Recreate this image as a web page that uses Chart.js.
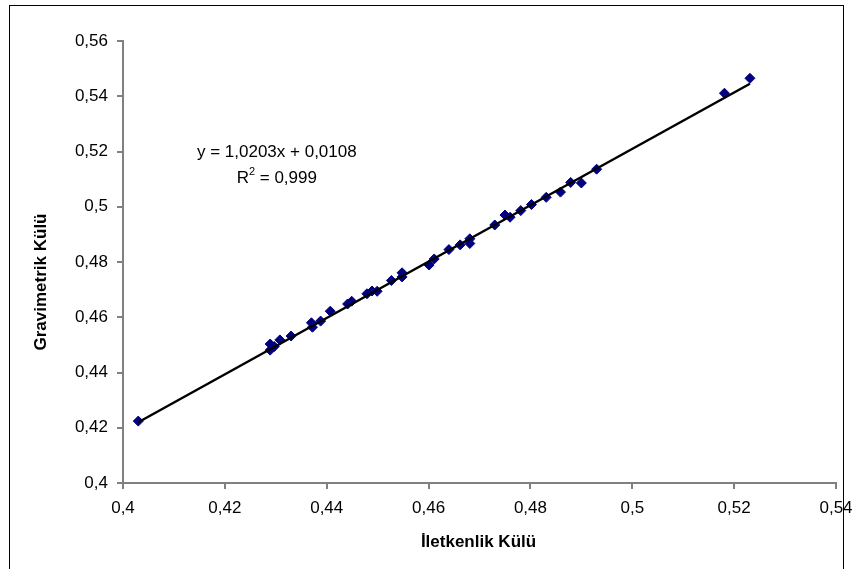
<!DOCTYPE html>
<html>
<head>
<meta charset="utf-8">
<script src="https://cdn.jsdelivr.net/npm/chart.js@4/dist/chart.umd.min.js"></script>
<style>
  html, body { margin: 0; padding: 0; background: #fff; overflow: hidden; }
  #wrap { position: relative; width: 852px; height: 569px; }
  #frame { position: absolute; left: 9px; top: 5px; width: 833px; height: 620px; border: 1px solid #000; pointer-events: none; }
  canvas { position: absolute; left: 0; top: 0; }
</style>
</head>
<body>
<div id="wrap">
  <canvas id="c" width="852" height="569"></canvas>
  <div id="frame"></div>
</div>
<script>
// Gravimetrik vs İletkenlik kül — scatter + linear trend, Excel-ish look.

const xVals = [0.403, 0.4289, 0.4289, 0.4297, 0.4308, 0.433, 0.437, 0.4372, 0.4388, 0.4407,
  0.4441, 0.4449, 0.4479, 0.4489, 0.4499, 0.4527, 0.4548, 0.4548, 0.4601, 0.4611,
  0.464, 0.4662, 0.4681, 0.4681, 0.473, 0.475, 0.476, 0.4781, 0.4802, 0.4831,
  0.4859, 0.4879, 0.49, 0.493, 0.5181, 0.5231];
const yVals = [0.4224, 0.4503, 0.4481, 0.4494, 0.4518, 0.4532, 0.458, 0.4564, 0.4586, 0.4622,
  0.4648, 0.4658, 0.4685, 0.4695, 0.4694, 0.4733, 0.4761, 0.4746, 0.4789, 0.4811,
  0.4845, 0.4862, 0.4867, 0.4884, 0.4934, 0.497, 0.4962, 0.4986, 0.5008, 0.5034,
  0.5053, 0.5088, 0.5086, 0.5136, 0.5411, 0.5465];

const xTicks = [0.4, 0.42, 0.44, 0.46, 0.48, 0.5, 0.52, 0.54];
const xTickLabels = ['0,4', '0,42', '0,44', '0,46', '0,48', '0,5', '0,52', '0,54'];
const yTicks = [0.4, 0.42, 0.44, 0.46, 0.48, 0.5, 0.52, 0.54, 0.56];
const yTickLabels = ['0,4', '0,42', '0,44', '0,46', '0,48', '0,5', '0,52', '0,54', '0,56'];

const slope = 1.0203;
const intercept = 0.0108;
const eqText = 'y = 1,0203x + 0,0108';
const r2Text = ' = 0,999';
const xTitle = 'İletkenlik Külü';
const yTitle = 'Gravimetrik Külü';

const FONT = '"Liberation Sans", Arial, sans-serif';
const AXIS_GRAY = '#808080';
const NAVY = '#000080';

const points = xVals.map((x, i) => ({ x, y: yVals[i] }));
const xLo = Math.min(...xVals), xHi = Math.max(...xVals);
const trend = [xLo, xHi].map(x => ({ x, y: slope * x + intercept }));

const labelsPlugin = {
  id: 'excelLabels',
  afterDraw(chart) {
    const { ctx, scales: { x, y }, chartArea } = chart;
    ctx.save();
    ctx.fillStyle = '#000';
    ctx.textBaseline = 'middle';

    // trendline equation, anchored in data space
    const cx = x.getPixelForValue(0.4302);
    const cy = y.getPixelForValue(0.5198);
    ctx.font = '17px ' + FONT;
    ctx.textAlign = 'center';
    ctx.fillText(eqText, cx, cy);

    // R² with superscript
    const wR = ctx.measureText('R').width;
    const wRest = ctx.measureText(r2Text).width;
    ctx.font = '11px ' + FONT;
    const w2 = ctx.measureText('2').width;
    const total = wR + w2 + wRest;
    let sx = cx - total / 2;
    const ry = cy + 26;
    ctx.textAlign = 'left';
    ctx.font = '17px ' + FONT;
    ctx.fillText('R', sx, ry);
    ctx.font = '11px ' + FONT;
    ctx.fillText('2', sx + wR, ry - 6);
    ctx.font = '17px ' + FONT;
    ctx.fillText(r2Text, sx + wR + w2, ry);

    // axis titles
    ctx.font = 'bold 17px ' + FONT;
    ctx.textAlign = 'center';
    ctx.fillText(xTitle, (chartArea.left + chartArea.right) / 2 - 1, 542);
    ctx.translate(41, 282);
    ctx.rotate(-Math.PI / 2);
    ctx.fillText(yTitle, 0, 0);
    ctx.restore();
  }
};

const axisCommon = {
  type: 'linear',
  border: { display: true, color: AXIS_GRAY, width: 2 },
  grid: { display: true, drawOnChartArea: false, drawTicks: true, tickLength: 6, color: AXIS_GRAY, lineWidth: 2 },
  title: { display: false },
};

new Chart(document.getElementById('c'), {
  type: 'scatter',
  data: {
    datasets: [
      {
        type: 'line', label: 'trend', data: trend,
        borderColor: '#000', borderWidth: 2.5, pointRadius: 0, fill: false, order: 0,
      },
      {
        label: 'data', data: points,
        pointStyle: 'rectRot', pointRadius: 5, pointHoverRadius: 5,
        backgroundColor: NAVY, borderColor: NAVY, borderWidth: 1, order: 1,
      },
    ],
  },
  options: {
    responsive: false, animation: false,
    layout: { padding: { left: 0, top: 41, right: 16, bottom: 0 } },
    plugins: { legend: { display: false }, tooltip: { enabled: false } },
    scales: {
      x: {
        ...axisCommon, min: 0.4, max: 0.54,
        afterBuildTicks: s => { s.ticks = xTicks.map(v => ({ value: v })); },
        afterFit: s => { s.height = 86; s.paddingLeft = 0; s.paddingRight = 0; },
        ticks: {
          padding: 9, color: '#000', font: { family: FONT, size: 17 }, maxRotation: 0, autoSkip: false,
          callback: (v, i) => xTickLabels[i],
        },
      },
      y: {
        ...axisCommon, min: 0.4, max: 0.56,
        afterBuildTicks: s => { s.ticks = yTicks.map(v => ({ value: v })); },
        afterFit: s => { s.width = 123; s.paddingTop = 0; s.paddingBottom = 0; },
        ticks: {
          padding: 9, color: '#000', font: { family: FONT, size: 17 }, autoSkip: false,
          callback: (v, i) => yTickLabels[i],
        },
      },
    },
  },
  plugins: [labelsPlugin],
});
</script>
</body>
</html>
